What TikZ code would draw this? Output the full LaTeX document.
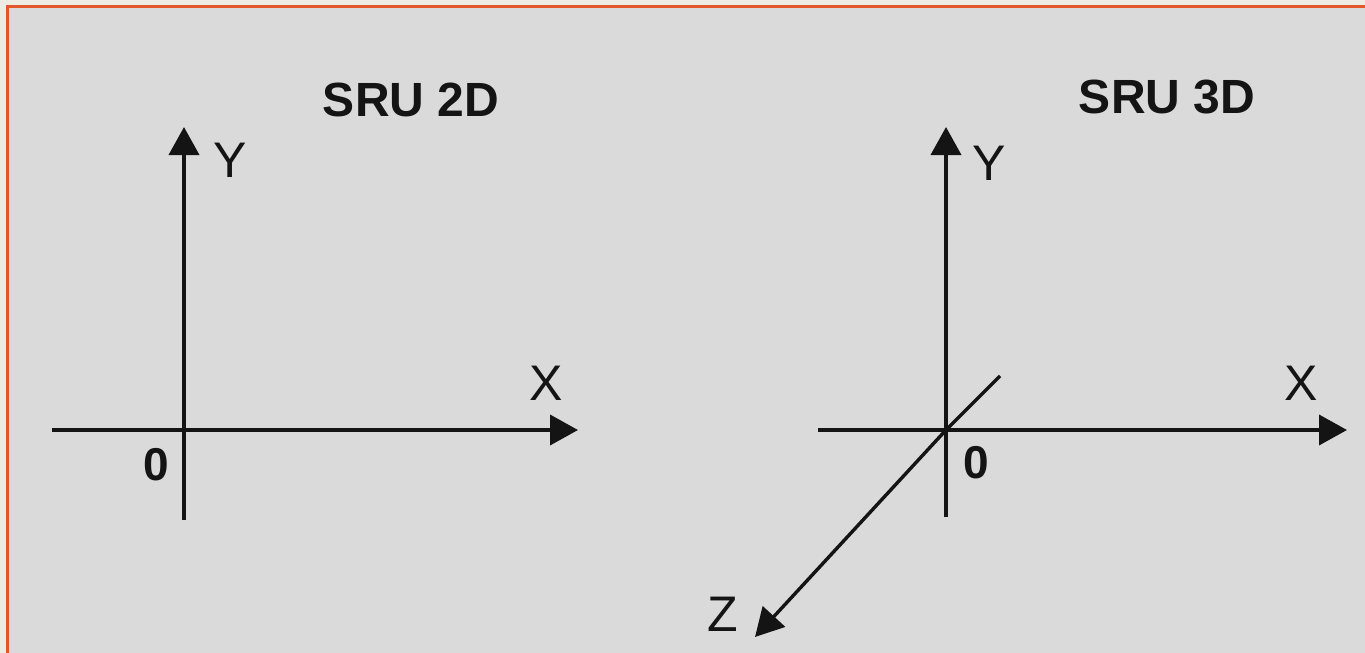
\documentclass[tikz,border=0pt]{standalone}
\usepackage{fontspec}
\setmainfont{Liberation Sans}
\usetikzlibrary{arrows.meta}
\definecolor{paper}{HTML}{DADADA}
\definecolor{outside}{HTML}{EEEAE4}
\definecolor{frame}{HTML}{E2582A}
\definecolor{ink}{HTML}{141414}
\tikzset{
  axis/.style={draw=ink, line width=3.8pt, -{Triangle[length=28pt,width=30pt]}},
  plainaxis/.style={draw=ink, line width=3.8pt},
  lbl/.style={text=ink, inner sep=0pt, font=\fontsize{50}{54}\selectfont},
  orig/.style={text=ink, inner sep=0pt, font=\fontsize{46}{50}\selectfont\bfseries},
  title/.style={text=ink, inner sep=0pt, font=\fontsize{48}{54}\selectfont\bfseries}
}
\begin{document}
\begin{tikzpicture}[x=1pt,y=-1pt]
\useasboundingbox (0,0) rectangle (1365,653);
\fill[outside] (0,0) rectangle (1365,653);
\fill[paper] (7,6) rectangle (1365,653);
\draw[frame, line width=3pt] (7,653) -- (7,6) -- (1365,6);
% 2D
\coordinate (o2) at (184,430);
\coordinate (y2b) at (184,520);
\coordinate (y2t) at (184,127);
\coordinate (x2l) at (52,430);
\coordinate (x2r) at (578,430);
\draw[plainaxis] (y2b) -- (o2);
\draw[axis] (o2) -- (y2t);
\draw[plainaxis] (x2l) -- (o2);
\draw[axis] (o2) -- (x2r);
\node[title] (t2) at (411,100) {SRU 2D};
\node[lbl] (ly2) at (230,160) {Y};
\node[lbl] (lx2) at (546,383) {X};
\node[orig] (l02) at (156,465) {0};
% 3D
\coordinate (o3) at (946,430);
\coordinate (y3b) at (946,517);
\coordinate (y3t) at (946,127);
\coordinate (x3l) at (818,430);
\coordinate (x3r) at (1347,430);
\coordinate (z3b) at (1000,376);
\coordinate (z3f) at (755,637);
\draw[plainaxis] (y3b) -- (o3);
\draw[axis] (o3) -- (y3t);
\draw[plainaxis] (x3l) -- (o3);
\draw[axis] (o3) -- (x3r);
\draw[plainaxis, line width=3.4pt] (z3b) -- (o3);
\draw[axis, line width=3.4pt] (o3) -- (z3f);
\node[title] (t3) at (1167,97) {SRU 3D};
\node[lbl] (ly3) at (989,163) {Y};
\node[lbl] (lx3) at (1301,383) {X};
\node[orig] (l03) at (976,463) {0};
\node[lbl] (lz3) at (723,614) {Z};
\end{tikzpicture}
\end{document}
